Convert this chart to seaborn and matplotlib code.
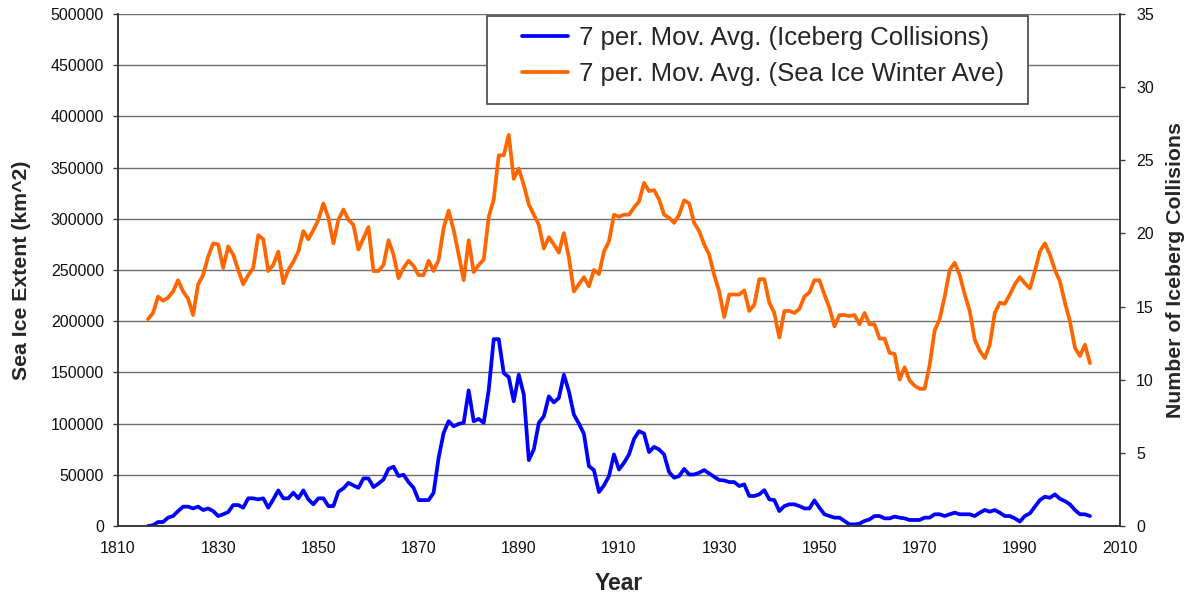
import matplotlib
matplotlib.use("Agg")
import matplotlib.pyplot as plt
from matplotlib.patches import Rectangle
import seaborn as sns
import pandas as pd

###
### data (7 per. moving averages)
###
years = list(range(1816, 2005))

sea_ice = [
    202000, 208000, 224000, 220000, 223000, 229000, 240000, 229000, 222000, 206000,  # 1816-1825
    236000, 245000, 263000, 276000, 275000, 252000, 273000, 265000, 250000, 236000,  # 1826-1835
    245000, 252000, 284000, 280000, 249000, 255000, 268000, 237000, 250000, 258000,  # 1836-1845
    268000, 288000, 280000, 289000, 299000, 315000, 301000, 276000, 299000, 309000,  # 1846-1855
    299000, 294000, 270000, 281000, 292000, 249000, 249000, 255000, 279000, 265000,  # 1856-1865
    242000, 252000, 259000, 254000, 245000, 245000, 259000, 249000, 260000, 291000,  # 1866-1875
    308000, 289000, 265000, 240000, 279000, 248000, 255000, 260000, 302000, 319000,  # 1876-1885
    362000, 362000, 382000, 339000, 349000, 333000, 314000, 304000, 294000, 271000,  # 1886-1895
    282000, 275000, 267000, 286000, 262000, 229000, 236000, 243000, 234000, 250000,  # 1896-1905
    246000, 268000, 278000, 304000, 302000, 304000, 304000, 311000, 317000, 335000,  # 1906-1915
    327000, 328000, 319000, 304000, 301000, 296000, 304000, 318000, 315000, 296000,  # 1916-1925
    288000, 275000, 265000, 245000, 229000, 204000, 226000, 226000, 226000, 230000,  # 1926-1935
    210000, 216000, 241000, 241000, 218000, 208000, 184000, 210000, 210000, 208000,  # 1936-1945
    212000, 224000, 228000, 240000, 240000, 226000, 213000, 195000, 206000, 206000,  # 1946-1955
    205000, 206000, 197000, 208000, 197000, 197000, 183000, 183000, 169000, 168000,  # 1956-1965
    143000, 155000, 142000, 137000, 134000, 134000, 157000, 191000, 202000, 224000,  # 1966-1975
    250000, 257000, 245000, 226000, 210000, 182000, 171000, 164000, 177000, 208000,  # 1976-1985
    218000, 217000, 226000, 236000, 243000, 237000, 232000, 249000, 268000, 276000,  # 1986-1995
    265000, 250000, 239000, 218000, 200000, 174000, 166000, 177000, 159000,          # 1996-2004
]

collisions = [
    0.0, 0.05, 0.27, 0.27, 0.57, 0.68, 1.02, 1.32, 1.32, 1.2,      # 1816-1825
    1.32, 1.09, 1.2, 1.02, 0.68, 0.8, 0.95, 1.43, 1.43, 1.25,      # 1826-1835
    1.89, 1.89, 1.82, 1.89, 1.25, 1.82, 2.43, 1.89, 1.89, 2.27,    # 1836-1845
    1.89, 2.43, 1.82, 1.48, 1.89, 1.89, 1.36, 1.36, 2.34, 2.57,    # 1846-1855
    2.95, 2.77, 2.61, 3.25, 3.25, 2.66, 2.9, 3.18, 3.9, 4.05,      # 1856-1865
    3.41, 3.5, 3.0, 2.61, 1.77, 1.77, 1.77, 2.27, 4.66, 6.36,      # 1866-1875
    7.16, 6.82, 6.98, 7.05, 9.27, 7.16, 7.32, 7.05, 9.3, 12.77,    # 1876-1885
    12.77, 10.45, 10.18, 8.52, 10.34, 8.98, 4.5, 5.23, 7.05, 7.5,  # 1886-1895
    8.86, 8.45, 8.75, 10.34, 9.2, 7.61, 7.0, 6.3, 4.09, 3.82,      # 1896-1905
    2.32, 2.77, 3.41, 4.89, 3.86, 4.32, 4.89, 5.95, 6.48, 6.32,    # 1906-1915
    5.05, 5.41, 5.23, 4.89, 3.68, 3.3, 3.41, 3.9, 3.52, 3.52,      # 1916-1925
    3.64, 3.82, 3.59, 3.36, 3.14, 3.11, 3.0, 3.0, 2.73, 2.84,      # 1926-1935
    2.05, 2.05, 2.16, 2.45, 1.82, 1.77, 1.02, 1.36, 1.48, 1.48,    # 1936-1945
    1.36, 1.2, 1.2, 1.75, 1.25, 0.8, 0.68, 0.57, 0.57, 0.34,       # 1946-1955
    0.11, 0.11, 0.16, 0.34, 0.45, 0.68, 0.68, 0.52, 0.52, 0.64,    # 1956-1965
    0.57, 0.52, 0.41, 0.41, 0.41, 0.57, 0.57, 0.8, 0.8, 0.68,      # 1966-1975
    0.8, 0.91, 0.8, 0.8, 0.8, 0.68, 0.91, 1.09, 0.98, 1.09,        # 1976-1985
    0.91, 0.68, 0.68, 0.52, 0.3, 0.68, 0.86, 1.32, 1.77, 2.0,      # 1986-1995
    1.93, 2.16, 1.86, 1.7, 1.48, 1.09, 0.8, 0.8, 0.68,             # 1996-2004
]

x_ticks = list(range(1810, 2011, 20))
left_ticks = list(range(0, 500001, 50000))
right_ticks = list(range(0, 36, 5))

lbl_ice = "7 per. Mov. Avg. (Sea Ice Winter Ave)"
lbl_col = "7 per. Mov. Avg. (Iceberg Collisions)"

df = pd.DataFrame({"Year": years, "ice": sea_ice, "col": collisions})

sns.set_style("white")
plt.rcParams['font.family'] = ['Liberation Sans', 'DejaVu Sans']

fig = plt.figure(figsize=(11.89, 5.95), dpi=100)
ax = fig.add_axes([0.0992, 0.116, 0.8428, 0.8605])
ax2 = ax.twinx()

sns.lineplot(data=df, x="Year", y="ice", ax=ax, color="#FF6600", linewidth=2.7, label=lbl_ice, legend=False)
sns.lineplot(data=df, x="Year", y="col", ax=ax2, color="#0000FF", linewidth=2.7, label=lbl_col, legend=False)

ax.set_xlim(1810, 2010)
ax.set_ylim(0, 500000)
ax2.set_ylim(0, 35)
ax.set_xticks(x_ticks)
ax.set_yticks(left_ticks)
ax2.set_yticks(right_ticks)

ax.yaxis.grid(True, color="#6e6e6e", linewidth=1.0)
ax.set_axisbelow(True)

for a in (ax, ax2):
    a.spines["top"].set_visible(False)
    for s in ("left", "right", "bottom"):
        a.spines[s].set_color("#3a3a3a")
        a.spines[s].set_linewidth(1.2)
    a.tick_params(axis="both", direction="out", length=3.5, width=1, color="#3a3a3a",
                  labelsize=11.5, labelcolor="#111111")
ax.tick_params(axis="y", pad=6.5)
ax2.tick_params(axis="y", pad=8)
ax.tick_params(axis="x", pad=7)

ax.set_xlabel("Year", fontsize=16.5, fontweight="bold", labelpad=12)
ax.set_ylabel("Sea Ice Extent (km^2)", fontsize=15.3, fontweight="bold", labelpad=14)
ax2.set_ylabel("Number of Iceberg Collisions", fontsize=15.3, fontweight="bold", labelpad=9)

# legend box as in the original (wide left margin), entries placed inside it
fig.patches.append(Rectangle((487 / 1189, 1 - 104 / 595), 541 / 1189, 88 / 595,
                             transform=fig.transFigure, facecolor="white",
                             edgecolor="#444444", linewidth=1.2, zorder=5))
h1, l1 = ax2.get_legend_handles_labels()
h2, l2 = ax.get_legend_handles_labels()
leg = fig.legend(h1 + h2, l1 + l2, loc="upper left", bbox_to_anchor=(522 / 1189, 1 - 26 / 595),
                 fontsize=18.5, frameon=False, handlelength=1.8, handletextpad=0.4,
                 borderpad=0, labelspacing=0.48, borderaxespad=0)
leg.set_zorder(6)

plt.savefig("out.png", dpi=100)
